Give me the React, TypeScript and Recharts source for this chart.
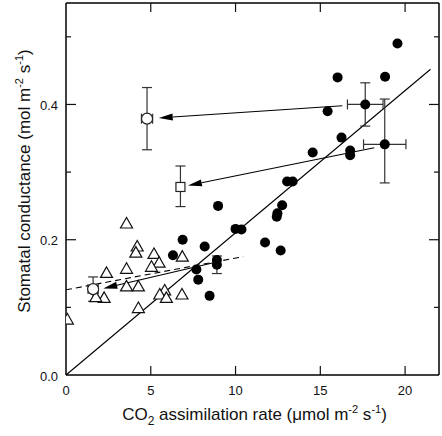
import React from 'react';
import { ScatterChart, Scatter, XAxis, YAxis, ErrorBar, ReferenceLine, Label } from 'recharts';

document.body.style.margin = '0';

// individual leaves, closed circles
const filledPoints = [
  { x: 19.55, y: 0.49 }, { x: 16.02, y: 0.44 }, { x: 18.82, y: 0.441 }, { x: 15.43, y: 0.39 },
  { x: 16.25, y: 0.351 }, { x: 14.55, y: 0.329 }, { x: 16.76, y: 0.332 }, { x: 16.76, y: 0.325 },
  { x: 13.04, y: 0.286 }, { x: 13.37, y: 0.286 }, { x: 12.75, y: 0.251 }, { x: 12.47, y: 0.239 },
  { x: 12.43, y: 0.234 }, { x: 10.0, y: 0.216 }, { x: 10.35, y: 0.215 }, { x: 11.74, y: 0.196 },
  { x: 12.66, y: 0.184 }, { x: 8.97, y: 0.25 }, { x: 6.88, y: 0.2 }, { x: 8.18, y: 0.19 },
  { x: 6.31, y: 0.177 }, { x: 8.9, y: 0.17 }, { x: 7.69, y: 0.156 }, { x: 7.8, y: 0.141 },
  { x: 8.47, y: 0.117 },
];

// individual leaves, open triangles
const trianglePoints = [
  { x: 3.57, y: 0.224 }, { x: 4.2, y: 0.19 }, { x: 4.12, y: 0.181 }, { x: 5.19, y: 0.179 },
  { x: 6.86, y: 0.175 }, { x: 5.49, y: 0.166 }, { x: 5.04, y: 0.16 }, { x: 3.57, y: 0.157 },
  { x: 2.39, y: 0.151 }, { x: 3.57, y: 0.131 }, { x: 4.27, y: 0.131 }, { x: 5.82, y: 0.125 },
  { x: 5.53, y: 0.119 }, { x: 5.92, y: 0.114 }, { x: 6.84, y: 0.119 }, { x: 2.25, y: 0.114 },
  { x: 1.76, y: 0.115 }, { x: 4.27, y: 0.099 }, { x: 0.08, y: 0.082 },
];

// means with error bars
const filledMeans = [
  { x: 17.65, y: 0.4, ex: 1.05, ey: 0.032 },
  { x: 18.8, y: 0.341, ex: 1.25, ey: [0.057, 0.067] },
];
const filledLowMean = [{ x: 8.9, y: 0.163, ey: 0.013 }];
const openCircleMeans = [
  { x: 4.78, y: 0.379, ex: 0.33, ey: 0.046 },
  { x: 1.6, y: 0.127, ex: 0.3, ey: 0.018 },
];
const squareMeans = [{ x: 6.75, y: 0.278, ey: [0.029, 0.031] }];

const xTicks = [0, 5, 10, 15, 20];
const yTicks = [0, 0.1, 0.2, 0.3, 0.4, 0.5];
const yLabelled = [0, 0.2, 0.4];

const solidFit = [{ x: 0, y: 0 }, { x: 21.5, y: 0.452 }];
const dashedFit = [{ x: 0, y: 0.126 }, { x: 10.45, y: 0.175 }];
const arrows = [
  [{ x: 16.3, y: 0.398 }, { x: 5.47, y: 0.38 }],
  [{ x: 18.18, y: 0.336 }, { x: 7.19, y: 0.28 }],
  [{ x: 8.7, y: 0.166 }, { x: 2.2, y: 0.128 }],
];

const W = 442;
const H = 436;
const MARGIN = { top: 3, right: 3, left: 0, bottom: 0 };
const Y_AXIS_W = 66;
const X_AXIS_H = 61;
const PLOT_LEFT = MARGIN.left + Y_AXIS_W;
const PLOT_RIGHT = W - MARGIN.right;
const PLOT_TOP = MARGIN.top;
const PLOT_BOTTOM = H - MARGIN.bottom - X_AXIS_H;

const FONT = '"Liberation Sans", Arial, sans-serif';
const INK = '#111';

const XTick = (props: any) => {
  const { x, payload } = props;
  return (
    <g>
      {payload.value !== 0 && (
        <>
          <line x1={x} y1={PLOT_BOTTOM} x2={x} y2={PLOT_BOTTOM - 9} stroke={INK} strokeWidth={1.2} />
          <line x1={x} y1={PLOT_TOP} x2={x} y2={PLOT_TOP + 9} stroke={INK} strokeWidth={1.2} />
        </>
      )}
      <text x={x} y={PLOT_BOTTOM + 20} textAnchor="middle" fontFamily={FONT} fontSize={13} fill={INK}>
        {payload.value}
      </text>
    </g>
  );
};

const YTick = (props: any) => {
  const { y, payload } = props;
  const v = payload.value;
  const major = yLabelled.includes(v);
  const len = major ? 10 : 5;
  return (
    <g>
      {v !== 0 && (
        <>
          <line x1={PLOT_LEFT} y1={y} x2={PLOT_LEFT + len} y2={y} stroke={INK} strokeWidth={1.2} />
          <line x1={PLOT_RIGHT} y1={y} x2={PLOT_RIGHT - len} y2={y} stroke={INK} strokeWidth={1.2} />
        </>
      )}
      {major && (
        <text x={PLOT_LEFT - 8} y={y + 5.5} textAnchor="end" fontFamily={FONT} fontSize={13} fill={INK}>
          {v.toFixed(1)}
        </text>
      )}
    </g>
  );
};

const XTitle = (props: any) => {
  const { viewBox } = props;
  const cx = viewBox.x + viewBox.width / 2 + 2;
  return (
    <text x={cx} y={viewBox.y + 45} textAnchor="middle" fontFamily={FONT} fontSize={17} fill={INK}>
      CO<tspan fontSize={12} dy={5}>2</tspan>
      <tspan dy={-5}> assimilation rate (μmol m</tspan>
      <tspan fontSize={11} dy={-7}>-2</tspan>
      <tspan dy={7}> s</tspan>
      <tspan fontSize={11} dy={-7}>-1</tspan>
      <tspan dy={7}>)</tspan>
    </text>
  );
};

const YTitle = (props: any) => {
  const { viewBox } = props;
  const cy = viewBox.y + viewBox.height / 2 - 8;
  const cx = 30;
  return (
    <text
      x={cx}
      y={cy}
      transform={`rotate(-90 ${cx} ${cy})`}
      textAnchor="middle"
      fontFamily={FONT}
      fontSize={17}
      fill={INK}
    >
      Stomatal conductance (mol m<tspan fontSize={11} dy={-7}>-2</tspan>
      <tspan dy={7}> s</tspan>
      <tspan fontSize={11} dy={-7}>-1</tspan>
      <tspan dy={7}>)</tspan>
    </text>
  );
};

const Arrow = (props: any) => {
  const { x1, y1, x2, y2 } = props;
  const dx = x2 - x1;
  const dy = y2 - y1;
  const len = Math.hypot(dx, dy) || 1;
  const ux = dx / len;
  const uy = dy / len;
  const hl = 14;
  const hw = 3.5;
  const bx = x2 - ux * hl;
  const by = y2 - uy * hl;
  return (
    <g>
      <line x1={x1} y1={y1} x2={bx} y2={by} stroke="#000" strokeWidth={1.1} />
      <polygon
        points={`${x2},${y2} ${bx - uy * hw},${by + ux * hw} ${bx + uy * hw},${by - ux * hw}`}
        fill="#000"
      />
    </g>
  );
};

const FilledDot = (p: any) => <circle cx={p.cx} cy={p.cy} r={5} fill="#000" />;
const OpenDot = (p: any) => <circle cx={p.cx} cy={p.cy} r={5.5} fill="#fff" stroke="#222" strokeWidth={1.2} />;
const OpenSquare = (p: any) => (
  <rect x={p.cx - 4.5} y={p.cy - 4.5} width={9} height={9} fill="#fff" stroke="#222" strokeWidth={1.2} />
);
const Triangle = (p: any) => (
  <polygon
    points={`${p.cx},${p.cy - 6} ${p.cx - 6},${p.cy + 4.5} ${p.cx + 6},${p.cy + 4.5}`}
    fill="#fff"
    stroke="#111"
    strokeWidth={1.2}
  />
);

export default function App() {
  return (
    <ScatterChart width={W} height={H} margin={MARGIN}>
      <XAxis
        type="number"
        dataKey="x"
        domain={[0, 22]}
        ticks={xTicks}
        allowDataOverflow
        height={X_AXIS_H}
        tickSize={0}
        tickMargin={0}
        tick={<XTick />}
        axisLine={{ stroke: '#000', strokeWidth: 1.5 }}
        interval={0}
      >
        <Label content={<XTitle />} />
      </XAxis>
      <YAxis
        type="number"
        dataKey="y"
        domain={[0, 0.55]}
        ticks={yTicks}
        allowDataOverflow
        width={Y_AXIS_W}
        tickSize={0}
        tickMargin={0}
        tick={<YTick />}
        axisLine={{ stroke: '#000', strokeWidth: 1.5 }}
        interval={0}
      >
        <Label content={<YTitle />} />
      </YAxis>
      <ReferenceLine x={22} stroke="#000" strokeWidth={1.5} />
      <ReferenceLine y={0.55} stroke="#000" strokeWidth={1.5} />
      <ReferenceLine segment={solidFit} stroke="#000" strokeWidth={1.1} />
      <ReferenceLine segment={dashedFit} stroke="#000" strokeWidth={1.1} strokeDasharray="6 4" />
      {arrows.map((seg, i) => (
        <ReferenceLine key={i} segment={seg} shape={<Arrow />} />
      ))}
      <Scatter data={trianglePoints} shape={<Triangle />} isAnimationActive={false} />
      <Scatter data={filledPoints} shape={<FilledDot />} isAnimationActive={false} />
      <Scatter data={filledMeans} shape={<FilledDot />} isAnimationActive={false}>
        <ErrorBar dataKey="ey" direction="y" width={5} stroke="#333" strokeWidth={1.2} />
        <ErrorBar dataKey="ex" direction="x" width={5} stroke="#333" strokeWidth={1.2} />
      </Scatter>
      <Scatter data={filledLowMean} shape={<FilledDot />} isAnimationActive={false}>
        <ErrorBar dataKey="ey" direction="y" width={5} stroke="#333" strokeWidth={1.2} />
      </Scatter>
      <Scatter data={openCircleMeans} shape={<OpenDot />} isAnimationActive={false}>
        <ErrorBar dataKey="ey" direction="y" width={5} stroke="#333" strokeWidth={1.2} />
        <ErrorBar dataKey="ex" direction="x" width={5} stroke="#333" strokeWidth={1.2} />
      </Scatter>
      <Scatter data={squareMeans} shape={<OpenSquare />} isAnimationActive={false}>
        <ErrorBar dataKey="ey" direction="y" width={5} stroke="#333" strokeWidth={1.2} />
      </Scatter>
    </ScatterChart>
  );
}
